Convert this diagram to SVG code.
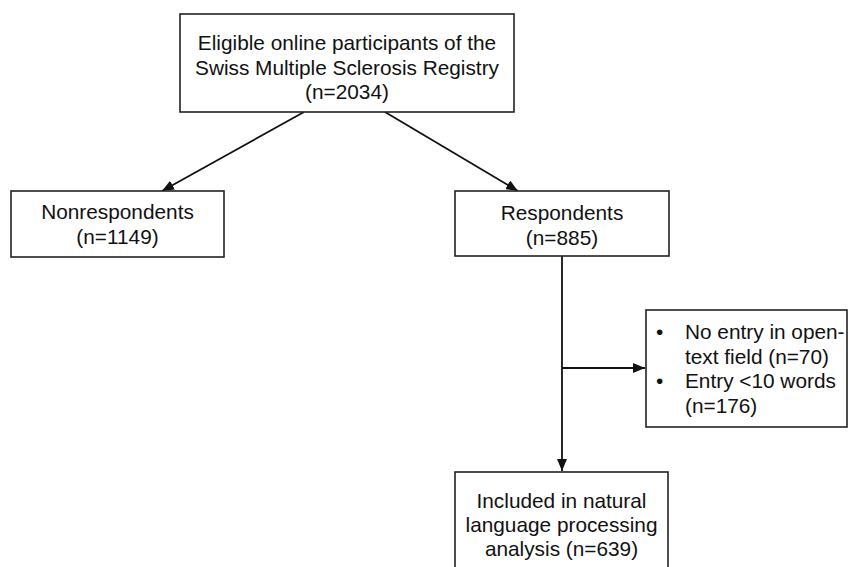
<svg xmlns="http://www.w3.org/2000/svg" width="848" height="567" viewBox="0 0 848 567">
<style>
.box{fill:#fff;stroke:#222;stroke-width:1.6}
.t{font-family:"Liberation Sans",Arial,Helvetica,sans-serif;font-size:20.8px;fill:#111}
.c{text-anchor:middle}
.ln{stroke:#111;stroke-width:1.8;fill:none}
</style>
<defs>
<marker id="ah" viewBox="0 0 12 10" refX="12" refY="5" markerWidth="12" markerHeight="10" markerUnits="userSpaceOnUse" orient="auto">
<path d="M0,0 L12,5 L0,10 Z" fill="#111"/>
</marker>
</defs>
<rect width="848" height="567" fill="#fff"/>
<g id="connectors">
<line class="ln" x1="304" y1="112" x2="162" y2="191" marker-end="url(#ah)"/>
<line class="ln" x1="385" y1="112" x2="518" y2="191" marker-end="url(#ah)"/>
<line class="ln" x1="562" y1="256" x2="562" y2="471" marker-end="url(#ah)"/>
<line class="ln" x1="562" y1="368" x2="645" y2="368" marker-end="url(#ah)"/>
</g>
<g id="n-eligible">
<rect class="box" x="180" y="14" width="334" height="98"/>
<text class="t c" x="347" y="50">Eligible online participants of the</text>
<text class="t c" x="347" y="74.5">Swiss Multiple Sclerosis Registry</text>
<text class="t c" x="347" y="99">(n=2034)</text>
</g>
<g id="n-nonrespondents">
<rect class="box" x="11" y="191" width="213" height="66"/>
<text class="t c" x="117.5" y="218.5">Nonrespondents</text>
<text class="t c" x="117.5" y="244">(n=1149)</text>
</g>
<g id="n-respondents">
<rect class="box" x="455" y="191" width="214" height="65"/>
<text class="t c" x="562" y="219.5">Respondents</text>
<text class="t c" x="562" y="245">(n=885)</text>
</g>
<g id="n-excluded">
<rect class="box" x="646" y="310" width="201" height="117"/>
<text class="t" x="656" y="339">•</text>
<text class="t" x="685" y="339">No entry in open-</text>
<text class="t" x="685" y="363.5">text field (n=70)</text>
<text class="t" x="656" y="388">•</text>
<text class="t" x="685" y="388">Entry &lt;10 words</text>
<text class="t" x="685" y="412.5">(n=176)</text>
</g>
<g id="n-included">
<rect class="box" x="455" y="472" width="213" height="100"/>
<text class="t c" x="561.5" y="508">Included in natural</text>
<text class="t c" x="561.5" y="532">language processing</text>
<text class="t c" x="561.5" y="556">analysis (n=639)</text>
</g>
</svg>
